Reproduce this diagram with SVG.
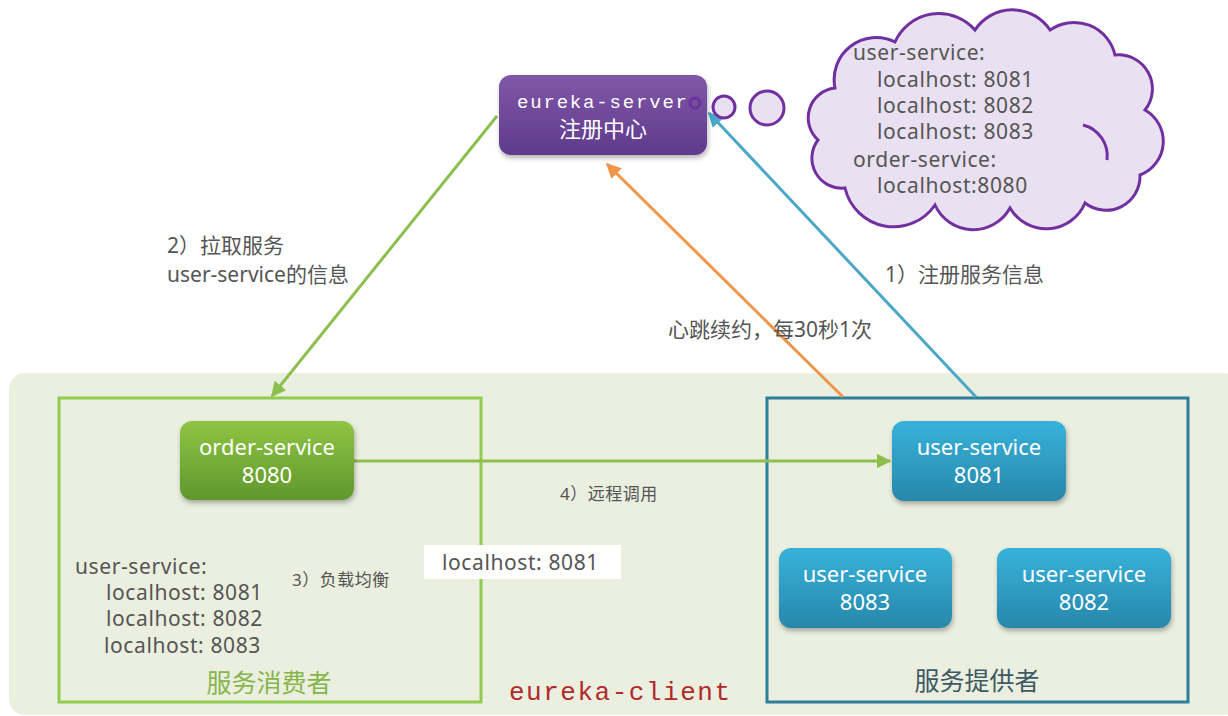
<svg xmlns="http://www.w3.org/2000/svg" width="1228" height="716" viewBox="0 0 1228 716">
<style>
  .t{font-family:"Noto Sans","Noto Sans CJK SC",sans-serif;fill:#555;}
  .lst{font-size:21px;letter-spacing:0.6px;}
  .w{font-family:"Noto Sans","Noto Sans CJK SC",sans-serif;fill:#fff;font-size:22px;text-anchor:middle;}
  .mono{font-family:"Liberation Mono","DejaVu Sans Mono","Noto Sans CJK SC",monospace;}
  .bubble{fill:#e9e1f1;stroke:#7030a0;stroke-width:3;}
</style>
<defs>
  <linearGradient id="gPurple" x1="0" y1="0" x2="0" y2="1">
    <stop offset="0" stop-color="#8058a8"/><stop offset="1" stop-color="#5f3a8c"/>
  </linearGradient>
  <linearGradient id="gGreen" x1="0" y1="0" x2="0" y2="1">
    <stop offset="0" stop-color="#8fc444"/><stop offset="1" stop-color="#5f982c"/>
  </linearGradient>
  <linearGradient id="gBlue" x1="0" y1="0" x2="0" y2="1">
    <stop offset="0" stop-color="#37b2da"/><stop offset="1" stop-color="#2887ab"/>
  </linearGradient>
  <filter id="sh" x="-10%" y="-10%" width="130%" height="140%">
    <feDropShadow dx="1" dy="3" stdDeviation="2.5" flood-color="#000" flood-opacity="0.3"/>
  </filter>
  <marker id="aGreen" viewBox="0 0 10 10" refX="9" refY="5" markerWidth="5" markerHeight="5" orient="auto"><path d="M0,0 L10,5 L0,10 z" fill="#8dbf4f"/></marker>
  <marker id="aBlue" viewBox="0 0 10 10" refX="9" refY="5" markerWidth="5" markerHeight="5" orient="auto"><path d="M0,0 L10,5 L0,10 z" fill="#4aa8c6"/></marker>
  <marker id="aOrange" viewBox="0 0 10 10" refX="9" refY="5" markerWidth="5" markerHeight="5" orient="auto"><path d="M0,0 L10,5 L0,10 z" fill="#f0964a"/></marker>
</defs>
<rect width="1228" height="716" fill="#fff"/>

<g id="client-panel">
  <rect x="9" y="373" width="1230" height="342" rx="16" fill="#ebefdf"/>
  <text class="mono" x="509" y="700" font-size="26" fill="#b02a2a" textLength="221">eureka-client</text>
</g>

<g id="consumer-group">
  <rect x="59" y="398" width="422" height="304" fill="none" stroke="#8fcc50" stroke-width="3"/>
  <text class="t" x="269" y="692" font-size="25" text-anchor="middle" style="fill:#86b64a">服务消费者</text>
  <text class="t lst" x="75" y="574">user-service:</text>
  <text class="t lst" x="106" y="600">localhost: 8081</text>
  <text class="t lst" x="106" y="626">localhost: 8082</text>
  <text class="t lst" x="104" y="653">localhost: 8083</text>
  <text class="t" x="292" y="586" font-size="17" letter-spacing="0.5">3）负载均衡</text>
</g>

<g id="provider-group">
  <rect x="767" y="398" width="421" height="304" fill="none" stroke="#2c7f98" stroke-width="3"/>
  <text class="t" x="977" y="690" font-size="25" text-anchor="middle" style="fill:#3e5964">服务提供者</text>
</g>

<g id="connectors" fill="none" stroke-width="3">
  <line x1="497" y1="116" x2="272" y2="396" stroke="#8dbf4f" marker-end="url(#aGreen)"/>
  <line x1="976" y1="397" x2="709" y2="113" stroke="#4aa8c6" marker-end="url(#aBlue)"/>
  <line x1="843" y1="397" x2="607" y2="164" stroke="#f0964a" marker-end="url(#aOrange)"/>
  <line x1="354" y1="461" x2="890" y2="461" stroke="#8dbf4f" marker-end="url(#aGreen)"/>
</g>

<g id="labels">
  <text class="t" x="167" y="253" font-size="21">2）拉取服务</text>
  <text class="t" x="167" y="282" font-size="21">user-service的信息</text>
  <text class="t" x="885" y="282" font-size="21">1）注册服务信息</text>
  <text class="t" x="668" y="337" font-size="21">心跳续约，每30秒1次</text>
  <text class="t" x="560" y="500" font-size="17" letter-spacing="0.5">4）远程调用</text>
  <rect x="424" y="545" width="197" height="34" fill="#fff"/>
  <text class="t lst" x="442" y="570">localhost: 8081</text>
</g>

<g id="eureka-server">
  <rect x="499" y="75" width="208" height="80" rx="12" fill="url(#gPurple)" filter="url(#sh)"/>
  <text class="mono" x="517" y="108" font-size="19" fill="#fff" textLength="170">eureka-server</text>
  <text class="w" x="603" y="137" font-size="21">注册中心</text>
  <circle cx="695" cy="103" r="5" fill="none" stroke="#7030a0" stroke-width="3"/>
</g>

<g id="registry-cloud">
  <circle class="bubble" cx="724" cy="107" r="11"/>
  <circle class="bubble" cx="767" cy="108" r="17"/>
  <path class="bubble" d="M845,188 A30,30 0 0 1 818,140 A30,30 0 0 1 835,88 A42,42 0 0 1 895,42 A48,48 0 0 1 975,30 A45,45 0 0 1 1050,30 A42,42 0 0 1 1115,55 A34,34 0 0 1 1145,110 A36,36 0 0 1 1140,175 A34,34 0 0 1 1085,203 A42,42 0 0 1 1010,208 A42,42 0 0 1 935,205 A50,50 0 0 1 845,188 Z"/>
  <path d="M1083,125 A32,32 0 0 1 1107,160" fill="none" stroke="#7030a0" stroke-width="3"/>
  <text class="t lst" x="853" y="60">user-service:</text>
  <text class="t lst" x="877" y="87">localhost: 8081</text>
  <text class="t lst" x="877" y="113">localhost: 8082</text>
  <text class="t lst" x="877" y="139">localhost: 8083</text>
  <text class="t lst" x="853" y="167">order-service:</text>
  <text class="t lst" x="877" y="193">localhost:8080</text>
</g>

<g id="order-service">
  <rect x="180" y="421" width="174" height="79" rx="12" fill="url(#gGreen)" filter="url(#sh)"/>
  <text class="w" x="267" y="455">order-service</text>
  <text class="w" x="267" y="483">8080</text>
</g>

<g id="user-service-8081">
  <rect x="892" y="421" width="174" height="80" rx="12" fill="url(#gBlue)" filter="url(#sh)"/>
  <text class="w" x="979" y="455">user-service</text>
  <text class="w" x="979" y="483">8081</text>
</g>

<g id="user-service-8083">
  <rect x="779" y="548" width="173" height="80" rx="12" fill="url(#gBlue)" filter="url(#sh)"/>
  <text class="w" x="865" y="582">user-service</text>
  <text class="w" x="865" y="610">8083</text>
</g>

<g id="user-service-8082">
  <rect x="997" y="548" width="174" height="80" rx="12" fill="url(#gBlue)" filter="url(#sh)"/>
  <text class="w" x="1084" y="582">user-service</text>
  <text class="w" x="1084" y="610">8082</text>
</g>
</svg>
